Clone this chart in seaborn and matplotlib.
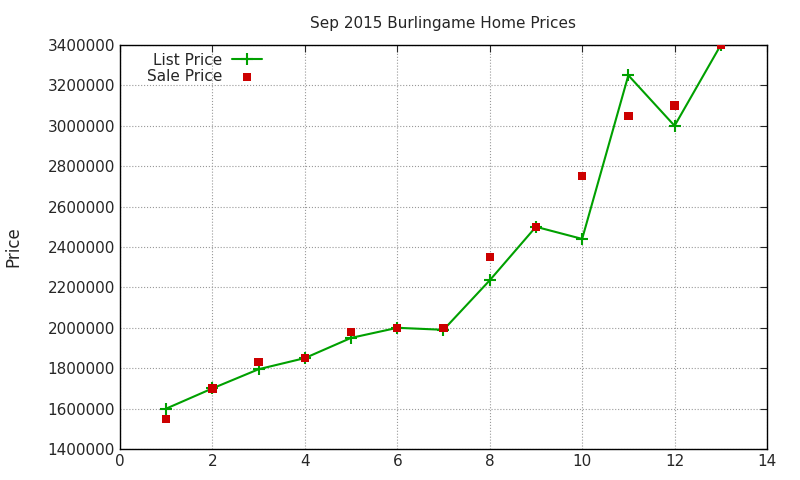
import matplotlib
matplotlib.use("Agg")
import matplotlib.pyplot as plt
import seaborn as sns
import pandas as pd

x = [1, 2, 3, 4, 5, 6, 7, 8, 9, 10, 11, 12, 13]
list_price = [1600000, 1700000, 1795000, 1850000, 1950000, 2000000, 1990000,
              2235000, 2500000, 2440000, 3250000, 3000000, 3400000]
sale_price = [1550000, 1700000, 1830000, 1850000, 1980000, 2000000, 2000000,
              2350000, 2500000, 2750000, 3050000, 3100000, 3400000]
df = pd.DataFrame({"x": x, "list": list_price, "sale": sale_price})

sns.set_style("white")
plt.rcParams['font.family'] = ['DejaVu Sans']
fig = plt.figure(figsize=(8, 4.8), dpi=100)
ax = fig.add_axes([120/800, 1-449/480, (767-120)/800, (449-45)/480])
sns.lineplot(data=df, x="x", y="list", ax=ax, color="#00a000", marker="+",
             markersize=8, markeredgewidth=1.5, markeredgecolor="#00a000",
             linewidth=1.5, label="List Price")
sns.scatterplot(data=df, x="x", y="sale", ax=ax, color="#cc0000", marker="s",
                s=36, edgecolor="none", linewidth=0, label="Sale Price", zorder=3)
ax.set_xlim(0, 14)
ax.set_ylim(1400000, 3400000)
ax.set_xticks(range(0, 15, 2))
ax.set_yticks(range(1400000, 3400001, 200000))
ax.ticklabel_format(style="plain", axis="y")
ax.grid(True, linestyle=":", color="#999999", linewidth=0.8)
for s in ax.spines.values():
    s.set_color("black"); s.set_linewidth(1)
ax.tick_params(direction="in", length=5, labelsize=11, top=True, right=True)
ax.set_xlabel("")
ax.set_ylabel("Price", fontsize=12, labelpad=18)
ax.set_title("Sep 2015 Burlingame Home Prices", fontsize=11, pad=12)
ax.legend(loc="upper left", frameon=False, fontsize=11, markerfirst=False,
          borderaxespad=0.1, handletextpad=0.6, labelspacing=0.1,
          bbox_to_anchor=(0.03, 1.0))
fig.savefig("out.png", dpi=100)
